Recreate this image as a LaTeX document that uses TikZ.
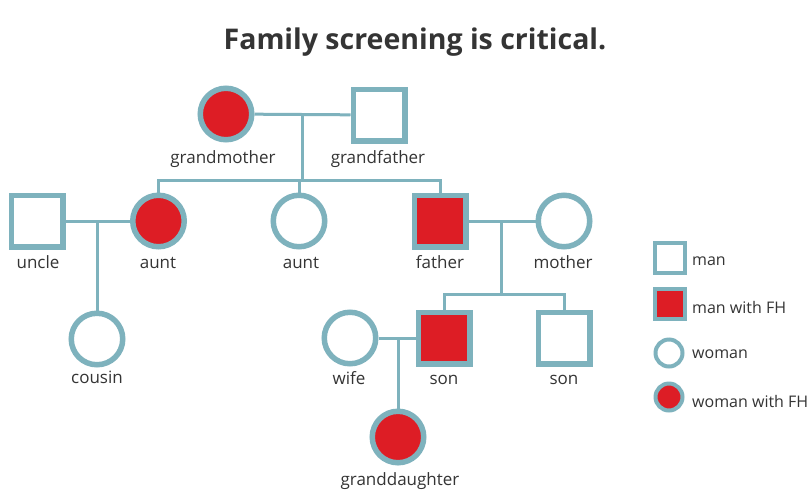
\documentclass[tikz,border=0pt]{standalone}
\usepackage{fontspec}
\setmainfont{Open Sans}
\usetikzlibrary{calc}
\definecolor{pedline}{RGB}{126,178,189}
\definecolor{fhred}{RGB}{221,29,37}
\definecolor{txtgray}{RGB}{52,52,52}
\begin{document}
\begin{tikzpicture}[x=1pt,y=-1pt,
  man/.style={rectangle,draw=pedline,line width=5.5pt,fill=white,minimum size=51.5pt,inner sep=0pt},
  manfh/.style={man,fill=fhred},
  woman/.style={man,circle},
  womanfh/.style={woman,fill=fhred},
  legman/.style={rectangle,draw=pedline,line width=4pt,fill=white,minimum size=30pt,inner sep=0pt},
  legmanfh/.style={legman,fill=fhred},
  legwoman/.style={legman,circle,minimum size=27pt},
  legwomanfh/.style={legwoman,fill=fhred},
  conn/.style={draw=pedline,line width=3pt},
  lbl/.style={text=txtgray,font=\fontsize{17}{19}\selectfont,inner sep=0pt,anchor=base},
  leglbl/.style={text=txtgray,font=\fontsize{16}{18}\selectfont,inner sep=0pt,anchor=base west},
  ttl/.style={text=txtgray,font=\bfseries\fontsize{28.5}{32}\selectfont,inner sep=0pt,anchor=base}]
\useasboundingbox[fill=white] (0,0) rectangle (810,491);

\node[ttl] (title) at (415,49) {Family screening is critical.};

% generation 1
\node[womanfh] (gm) at (226,114) {};
\node[man] (gf) at (379,115) {};
% generation 2
\node[man] (uncle) at (37,221) {};
\node[womanfh] (aunta) at (158.5,221) {};
\node[woman] (auntb) at (299,221) {};
\node[manfh] (father) at (440,221) {};
\node[woman] (mother) at (564,221) {};
% generation 3
\node[woman] (cousin) at (97,339) {};
\node[woman] (wife) at (350,338) {};
\node[manfh] (sona) at (444,338) {};
\node[man] (sonb) at (564,338) {};
% generation 4
\node[womanfh] (gd) at (398,437) {};

% labels
\node[lbl] (lgm) at (223,163) {grandmother};
\node[lbl] (lgf) at (378,163) {grandfather};
\node[lbl] (lun) at (38,268) {uncle};
\node[lbl] (lau1) at (158,268) {aunt};
\node[lbl] (lau2) at (301,268) {aunt};
\node[lbl] (lfa) at (440,268) {father};
\node[lbl] (lmo) at (563,268) {mother};
\node[lbl] (lco) at (97,383) {cousin};
\node[lbl] (lwi) at (349,384) {wife};
\node[lbl] (lsa) at (444,384) {son};
\node[lbl] (lsb) at (564,384) {son};
\node[lbl] (lgd) at (400,485) {granddaughter};

% connectors
\coordinate (gmgf) at (302,114);
\coordinate (sib) at (302,180);
\draw[conn] (gm) -- (gf);
\draw[conn] (gmgf) -- (sib);
\draw[conn] (aunta) |- (sib) -| (father);
\draw[conn] (auntb) -- (auntb |- sib);

\coordinate (ua) at (97,221);
\draw[conn] (uncle) -- (aunta);
\draw[conn] (ua) -- (cousin);

\coordinate (fm) at (501,221);
\coordinate (sons) at (501,294);
\draw[conn] (father) -- (mother);
\draw[conn] (fm) -- (sons);
\draw[conn] (sona) |- (sons) -| (sonb);

\coordinate (ws) at (398,338);
\draw[conn] (wife) -- (sona);
\draw[conn] (ws) -- (gd);

% legend
\node[legman] (k1) at (670,258) {};
\node[legmanfh] (k2) at (670,304) {};
\node[legwoman] (k3) at (669,353) {};
\node[legwomanfh] (k4) at (669,397) {};
\node[leglbl] (t1) at (692,265) {man};
\node[leglbl] (t2) at (692,313) {man with FH};
\node[leglbl] (t3) at (692,358) {woman};
\node[leglbl] (t4) at (692,407) {woman with FH};
\end{tikzpicture}
\end{document}
